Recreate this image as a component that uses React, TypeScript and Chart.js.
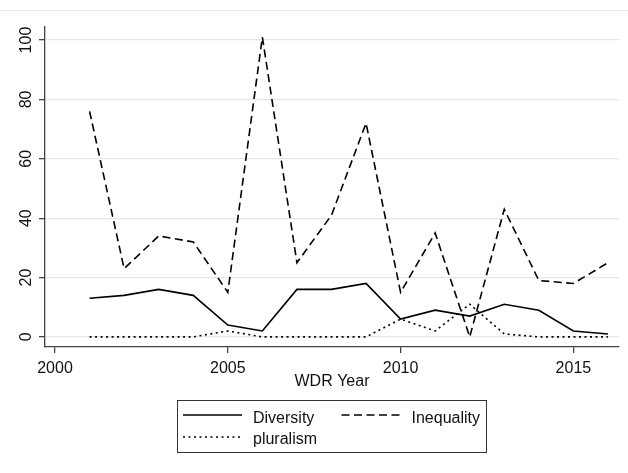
import React, { useEffect, useRef } from "react";
import { Chart, registerables } from "chart.js";

Chart.register(...registerables);

const years = [2001, 2002, 2003, 2004, 2005, 2006, 2007, 2008, 2009, 2010, 2011, 2012, 2013, 2014, 2015, 2016];
const diversity = [13, 14, 16, 14, 4, 2, 16, 16, 18, 6, 9, 7, 11, 9, 2, 1];
const inequality = [76, 23, 34, 32, 15, 101, 25, 41, 72, 15, 35, 0, 43, 19, 18, 25];
const pluralism = [0, 0, 0, 0, 2, 0, 0, 0, 0, 6, 2, 11, 1, 0, 0, 0];
const xTicks = [2000, 2005, 2010, 2015];
const yTicks = [0, 20, 40, 60, 80, 100];
const seriesLabels = ["Diversity", "Inequality", "pluralism"];
const xTitle = "WDR Year";

const FONT = '"Liberation Sans", Arial, Helvetica, sans-serif';
const TEXT = "#111111";
const AXIS = "#444444";

const frameLine = {
  id: "frameLine",
  beforeDraw(chart: any) {
    const ctx = chart.ctx;
    ctx.save();
    ctx.strokeStyle = "#ececec";
    ctx.lineWidth = 1;
    ctx.beginPath();
    ctx.moveTo(0, 10.5);
    ctx.lineTo(chart.width, 10.5);
    ctx.stroke();
    ctx.restore();
  },
};

const yLabels = {
  id: "yLabels",
  afterDraw(chart: any) {
    const ctx = chart.ctx;
    const y = chart.scales.y;
    ctx.save();
    ctx.fillStyle = TEXT;
    ctx.font = `16px ${FONT}`;
    ctx.textAlign = "center";
    ctx.textBaseline = "alphabetic";
    y.ticks.forEach((t: any) => {
      const py = y.getPixelForValue(t.value);
      ctx.save();
      ctx.translate(31, py);
      ctx.rotate(-Math.PI / 2);
      ctx.fillText(String(t.value), 0, 0);
      ctx.restore();
    });
    ctx.restore();
  },
};

const boxLegend = {
  id: "boxLegend",
  afterDraw(chart: any) {
    const ctx = chart.ctx;
    ctx.save();
    ctx.strokeStyle = "#333333";
    ctx.lineWidth = 1;
    ctx.strokeRect(177.5, 400.5, 309, 52);
    const slots = [
      { x: 183, y: 415, ty: 423 },
      { x: 341.5, y: 415, ty: 423 },
      { x: 183, y: 437, ty: 444 },
    ];
    chart.data.datasets.forEach((ds: any, i: number) => {
      const s = slots[i];
      ctx.beginPath();
      ctx.setLineDash(ds.borderDash || []);
      ctx.strokeStyle = ds.borderColor;
      ctx.lineWidth = ds.borderWidth;
      ctx.moveTo(s.x, s.y);
      ctx.lineTo(s.x + 59, s.y);
      ctx.stroke();
      ctx.setLineDash([]);
      ctx.fillStyle = TEXT;
      ctx.font = `16px ${FONT}`;
      ctx.textAlign = "left";
      ctx.textBaseline = "alphabetic";
      ctx.fillText(ds.label, s.x + 70, s.ty);
    });
    ctx.restore();
  },
};

export default function App() {
  const ref = useRef<HTMLCanvasElement>(null);

  useEffect(() => {
    if (!ref.current) return;
    const mk = (arr: number[]) => years.map((x, i) => ({ x, y: arr[i] }));
    const chart = new Chart(ref.current, {
      type: "line",
      data: {
        datasets: [
          {
            label: seriesLabels[0],
            data: mk(diversity),
            borderColor: "#000000",
            borderWidth: 1.6,
            pointRadius: 0,
            tension: 0,
            fill: false,
          },
          {
            label: seriesLabels[1],
            data: mk(inequality),
            borderColor: "#000000",
            borderWidth: 1.6,
            borderDash: [8, 4.5],
            pointRadius: 0,
            tension: 0,
            fill: false,
          },
          {
            label: seriesLabels[2],
            data: mk(pluralism),
            borderColor: "#000000",
            borderWidth: 1.6,
            borderDash: [2, 3.5],
            pointRadius: 0,
            tension: 0,
            fill: false,
          },
        ],
      },
      options: {
        responsive: false,
        animation: false,
        devicePixelRatio: 1,
        layout: { padding: { top: 27, right: 9, left: 0, bottom: 0 } },
        plugins: {
          legend: { display: false },
          tooltip: { enabled: false },
        },
        scales: {
          x: {
            type: "linear",
            min: 1999.71,
            max: 2016.32,
            afterBuildTicks: (s: any) => {
              s.ticks = xTicks.map((v) => ({ value: v }));
            },
            afterFit: (s: any) => {
              s.height = 126;
            },
            ticks: {
              autoSkip: false,
              maxRotation: 0,
              minRotation: 0,
              padding: 6,
              color: TEXT,
              font: { family: FONT, size: 16 },
              callback: (v: any) => String(v),
            },
            title: {
              display: true,
              text: xTitle,
              color: TEXT,
              font: { family: FONT, size: 16 },
              padding: { top: 0, bottom: 82 },
            },
            grid: {
              drawOnChartArea: false,
              drawTicks: true,
              tickLength: 6,
              tickColor: AXIS,
              lineWidth: 1.3,
            },
            border: { display: true, color: AXIS, width: 1.3 },
          },
          y: {
            type: "linear",
            min: -3.4,
            max: 104.4,
            afterBuildTicks: (s: any) => {
              s.ticks = yTicks.map((v) => ({ value: v }));
            },
            afterFit: (s: any) => {
              s.width = 45;
            },
            ticks: { display: false },
            grid: {
              color: "#e6e6e6",
              lineWidth: 1.3,
              drawTicks: true,
              tickLength: 6,
              tickColor: AXIS,
            },
            border: { display: true, color: AXIS, width: 1.3 },
          },
        },
      },
      plugins: [frameLine, yLabels, boxLegend],
    });
    return () => chart.destroy();
  }, []);

  return (
    <div style={{ position: "fixed", left: 0, top: 0, width: 628, height: 473, background: "#ffffff" }}>
      <canvas ref={ref} width={628} height={473} style={{ display: "block", width: 628, height: 473 }} />
    </div>
  );
}
